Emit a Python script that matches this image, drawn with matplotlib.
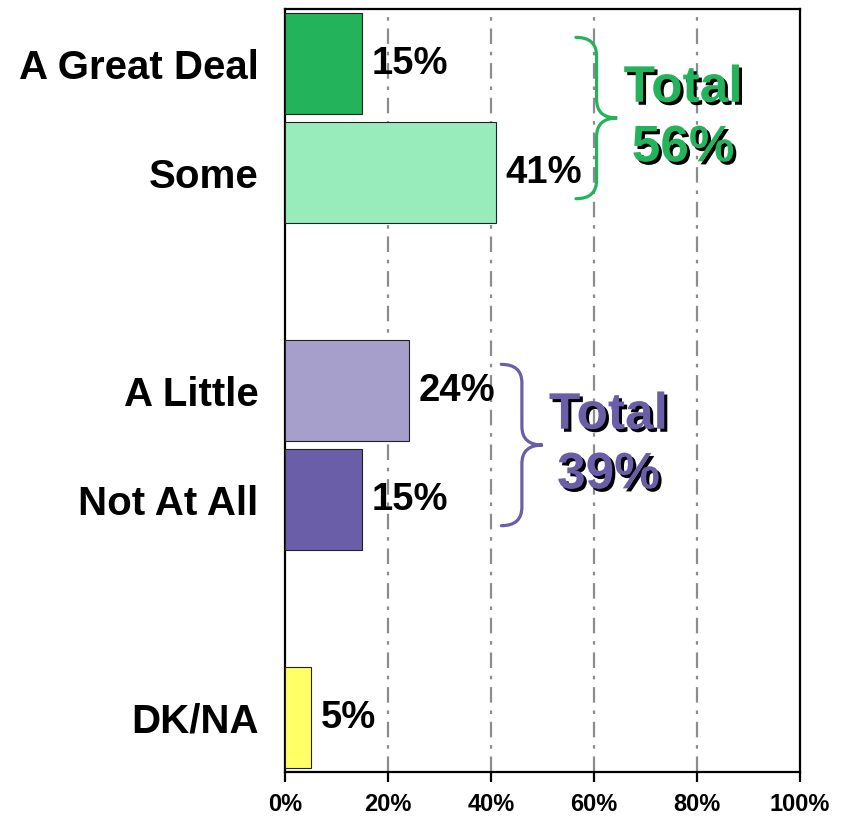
import numpy as np
import matplotlib
matplotlib.use('Agg')
import matplotlib.pyplot as plt
import matplotlib.patheffects as pe
from matplotlib.path import Path
from matplotlib.patches import PathPatch

plt.rcParams['font.family'] = ['Liberation Sans', 'DejaVu Sans']
plt.rcParams['font.weight'] = 'bold'

#-------------------------------------------------------------------------
categories = ['A Great Deal', 'Some', 'A Little', 'Not At All', 'DK/NA']
values = [15, 41, 24, 15, 5]
slots = [0, 1, 3, 4, 6]
bar_colors = ['#22B35B', '#98ECBB', '#A69FCC', '#6A5EA8', '#FFFF66']

groups = [[0, 1], [2, 3]]
group_labels = ['Total\n56%', 'Total\n39%']
group_colors = ['#22B35B', '#6A5EA8']
brace_x = [56.5, 42.0]

xticks = [0, 20, 40, 60, 80, 100]
xticklabels = ['0%', '20%', '40%', '60%', '80%', '100%']

#-------------------------------------------------------------------------
def draw_brace(ax, x0, ytop, ybot, color):
  # curly brace opening to the left, tip to the right
  w = 4.0
  r = 0.17
  ymid = 0.5*(ytop + ybot)
  xs = x0 + w
  xt = x0 + 2*w
  verts = [(x0, ytop), (xs, ytop), (xs, ytop + r),
           (xs, ymid - r),
           (xs, ymid), (xt, ymid),
           (xs, ymid), (xs, ymid + r),
           (xs, ybot - r),
           (xs, ybot), (x0, ybot)]
  codes = [Path.MOVETO, Path.CURVE3, Path.CURVE3,
           Path.LINETO,
           Path.CURVE3, Path.CURVE3,
           Path.CURVE3, Path.CURVE3,
           Path.LINETO,
           Path.CURVE3, Path.CURVE3]
  ax.add_patch(PathPatch(Path(verts, codes), facecolor='none',
                         edgecolor=color, lw=2.3, capstyle='round',
                         zorder=4))
  return xt, ymid

fig = plt.figure(figsize=(8.54, 8.22), dpi=100)
ax = fig.add_axes([0.3337, 0.0608, 0.6031, 0.9282])

ax.barh(slots, values, height=0.92, color=bar_colors,
        edgecolor='#222222', linewidth=0.8, zorder=3)

for s, v in zip(slots, values):
  ax.annotate('%d%%' %(v), xy=(v, s), xytext=(7, 0),
              textcoords='offset points', ha='left', va='center',
              fontsize=27.5, fontweight='bold', color='black', zorder=5)

for g, lab, col, bx in zip(groups, group_labels, group_colors, brace_x):
  ys = [slots[i] for i in g]
  ytop = min(ys) - 0.24
  ybot = max(ys) + 0.24
  xt, ym = draw_brace(ax, bx, ytop, ybot, col)
  ax.text(xt + 12.8, ym, lab, ha='center', va='center',
          multialignment='center', fontsize=37, fontweight='bold',
          color=col, zorder=6, linespacing=1.28,
          path_effects=[pe.withSimplePatchShadow(offset=(2.2, -2.2),
                                                 shadow_rgbFace='black',
                                                 alpha=1.0)])

ax.set_xlim(0, 100)
ax.set_ylim(6.5, -0.5)
ax.set_xticks(xticks)
ax.set_xticklabels(xticklabels, fontsize=17, fontweight='bold')
ax.set_yticks(slots)
ax.set_yticklabels(categories, fontsize=29, fontweight='bold')
ax.tick_params(axis='y', length=0, pad=19)
ax.tick_params(axis='x', direction='out', length=7, width=1.6, pad=8)

for x in xticks[1:-1]:
  ax.axvline(x, color='#8C8C8C', lw=1.6, dashes=(7, 3.5, 1.6, 3.5),
             zorder=1)

for sp in ax.spines.values():
  sp.set_linewidth(1.6)
  sp.set_color('black')

plt.savefig('out.png', dpi=100)
